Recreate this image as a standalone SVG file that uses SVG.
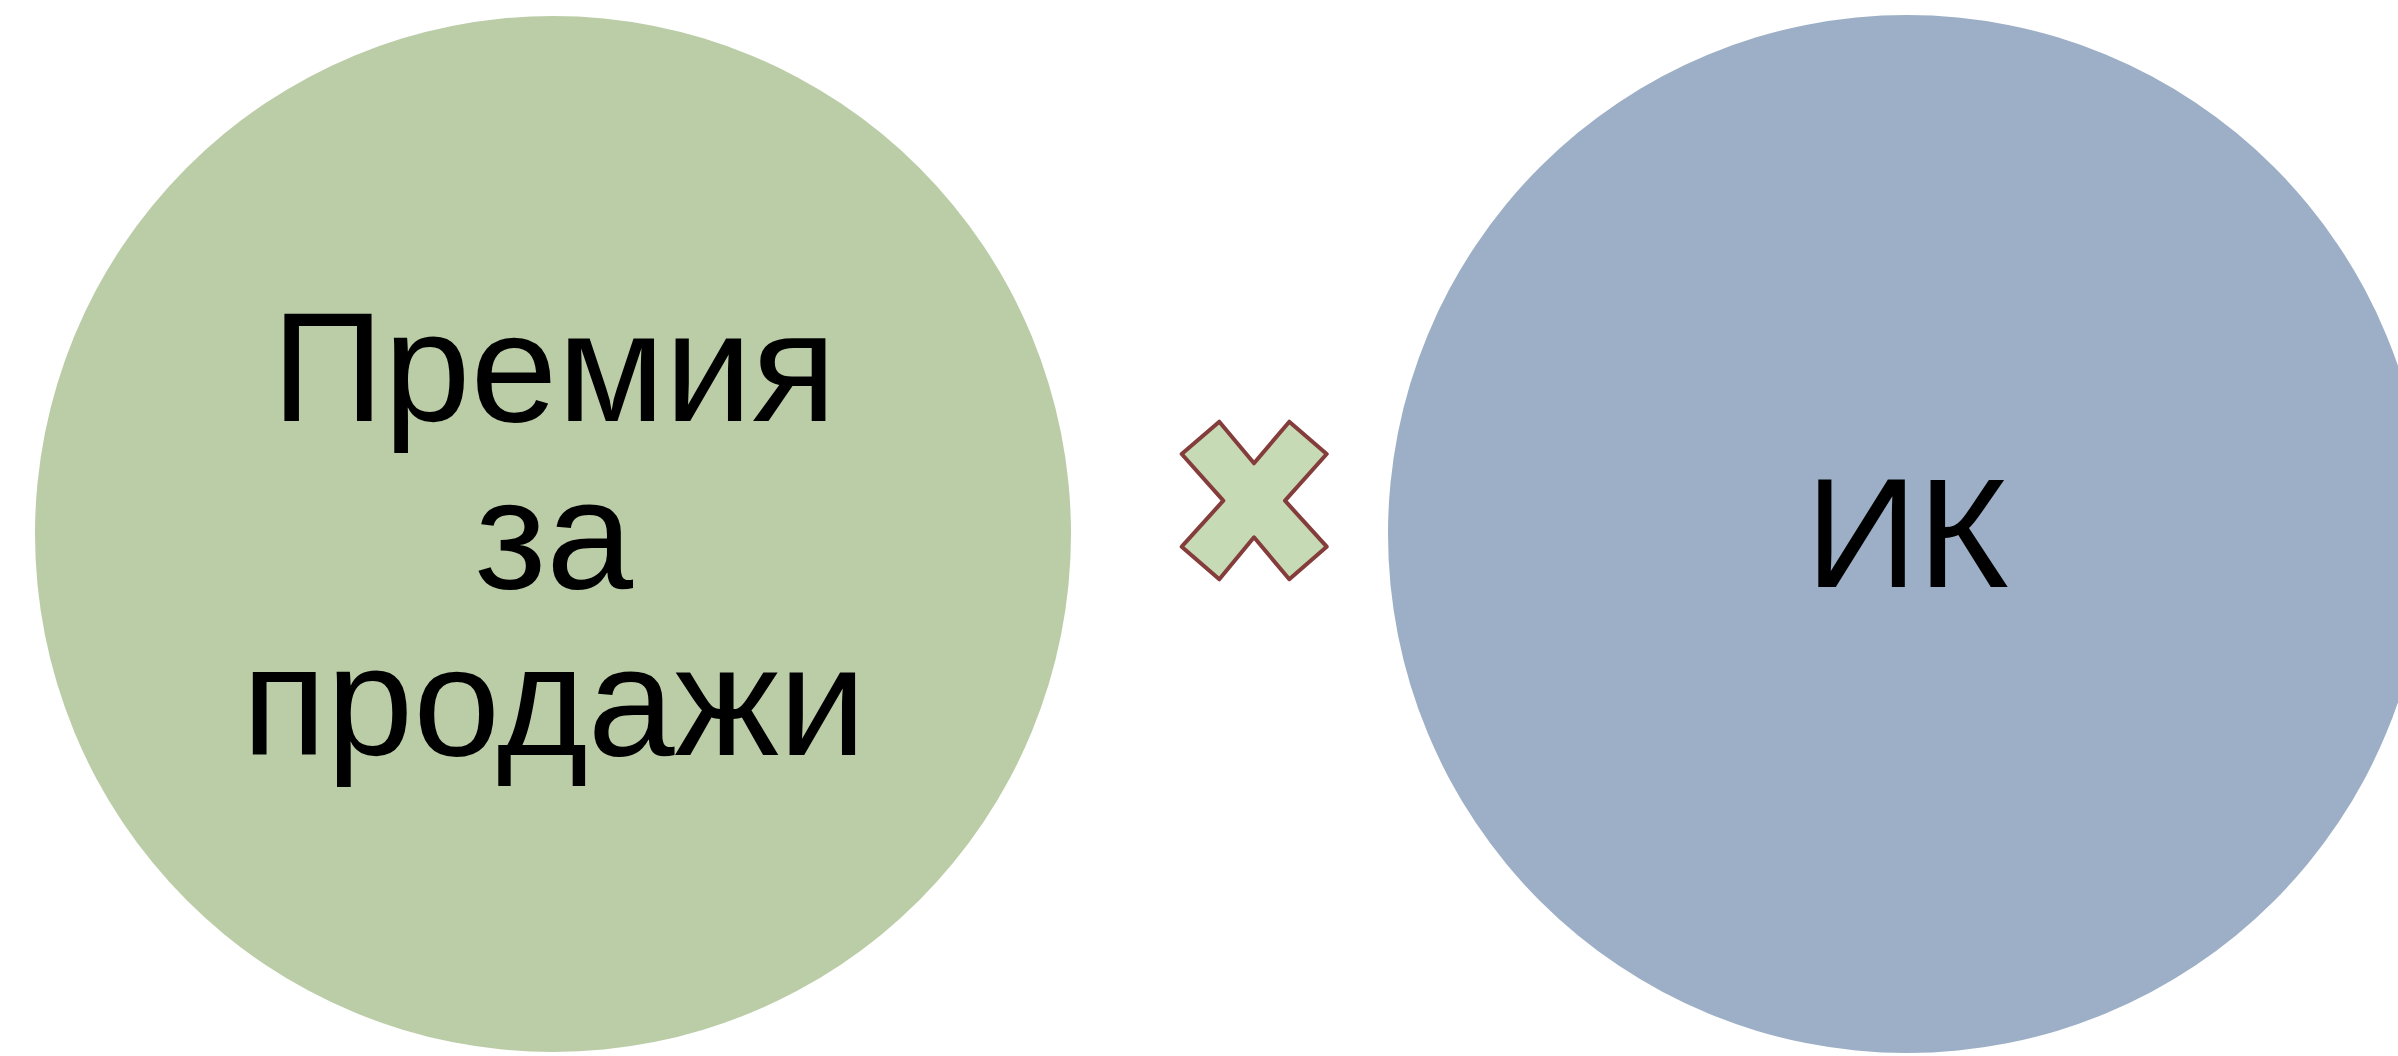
<svg xmlns="http://www.w3.org/2000/svg" width="2398" height="1056" viewBox="0 0 2398 1056">
  <style>
    .lbl { font-family: "Liberation Sans", Arial, sans-serif; font-size: 156px; fill: #000000; text-anchor: middle; }
  </style>
  <rect x="0" y="0" width="2398" height="1056" fill="#ffffff"/>
  <g id="node-premium">
    <circle cx="553" cy="534" r="518" fill="#BBCDA7"/>
    <text class="lbl" x="554" y="421">Премия</text>
    <text class="lbl" x="554" y="588">за</text>
    <text class="lbl" x="554" y="755">продажи</text>
  </g>
  <g id="node-multiply">
    <polygon points="1219.3,421.7 1254,463.3 1289.3,421.7 1326.7,454 1285,500.7 1326.7,546.7 1289.3,579.3 1254,537.3 1219.3,579.3 1181.7,546.7 1223.3,500.7 1181.7,454" fill="#C7DAB6" stroke="#843D3B" stroke-width="4" stroke-linejoin="round"/>
  </g>
  <g id="node-ik">
    <circle cx="1907" cy="534" r="519" fill="#9CAFC6"/>
    <text class="lbl" x="1907" y="587">ИК</text>
  </g>
  <g id="connectors"></g>
</svg>
